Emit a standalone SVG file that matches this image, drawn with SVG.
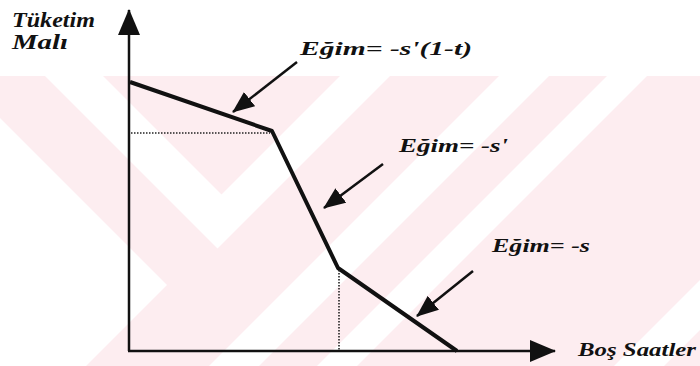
<svg xmlns="http://www.w3.org/2000/svg" width="700" height="366" viewBox="0 0 700 366">
  <style>
    .lbl { font-family: "Liberation Serif", "Times New Roman", serif; font-weight: bold; font-style: italic; fill: #111; }
    .curve { fill: none; stroke: #111; stroke-width: 4; stroke-linejoin: round; }
    .axis { fill: none; stroke: #111; stroke-width: 2.5; }
    .dot { fill: none; stroke: #222; stroke-width: 1.6; stroke-dasharray: 1.5 1.5; }
    .ptr { fill: none; stroke: #111; stroke-width: 2.5; }
    .wm { fill: #fdedf0; }
    .wmw { fill: #ffffff; }
  </style>
  <defs>
    <marker id="head" viewBox="0 0 22 18" refX="21" refY="9" markerWidth="22" markerHeight="18" markerUnits="userSpaceOnUse" orient="auto">
      <path d="M0,0 L22,9 L0,18 z" fill="#111"/>
    </marker>
    <marker id="axhead" viewBox="0 0 26 22" refX="25" refY="11" markerWidth="26" markerHeight="22" markerUnits="userSpaceOnUse" orient="auto">
      <path d="M0,0 L26,11 L0,22 z" fill="#111"/>
    </marker>
  </defs>

  <g id="watermark">
    <rect class="wm" x="0" y="76" width="700" height="290"/>
    <polygon class="wmw" points="0,118 167,285 86,366 0,366"/>
    <polygon class="wmw" points="45,76 103,76 221.5,194.5 340,76 390,76 217.5,248.5"/>
    <polygon class="wmw" points="499,76 549,76 259,366 209,366"/>
    <polygon class="wmw" points="607,76 647,76 357,366 317,366"/>
    <polygon class="wmw" points="700,280 700,330 664,366 614,366"/>
  </g>

  <g id="axes">
    <line class="axis" x1="129" y1="351" x2="129" y2="10" marker-end="url(#axhead)"/>
    <line class="axis" x1="128" y1="351" x2="555" y2="351" marker-end="url(#axhead)"/>
  </g>

  <g id="budget-line">
    <polyline class="curve" points="130,82 272,131 338,268 457,351"/>
  </g>

  <g id="guides">
    <line class="dot" x1="131" y1="133" x2="270" y2="133"/>
    <line class="dot" x1="339" y1="270" x2="339" y2="350"/>
  </g>

  <g id="connectors">
    <line class="ptr" x1="297" y1="62" x2="233" y2="112" marker-end="url(#head)"/>
    <line class="ptr" x1="383" y1="164" x2="324" y2="208" marker-end="url(#head)"/>
    <line class="ptr" x1="473" y1="271" x2="417" y2="316" marker-end="url(#head)"/>
  </g>

  <g id="label-y">
    <text class="lbl" x="12" y="27" font-size="21" textLength="83" lengthAdjust="spacingAndGlyphs">Tüketim</text>
    <text class="lbl" x="12" y="49" font-size="21" textLength="56" lengthAdjust="spacingAndGlyphs">Malı</text>
  </g>
  <g id="label-slope1">
    <text class="lbl" x="300" y="55" font-size="19" textLength="172" lengthAdjust="spacingAndGlyphs">Eğim= -s'(1-t)</text>
  </g>
  <g id="label-slope2">
    <text class="lbl" x="399" y="152" font-size="19" textLength="109" lengthAdjust="spacingAndGlyphs">Eğim= -s'</text>
  </g>
  <g id="label-slope3">
    <text class="lbl" x="492" y="252" font-size="19" textLength="98" lengthAdjust="spacingAndGlyphs">Eğim= -s</text>
  </g>
  <g id="label-x">
    <text class="lbl" x="578" y="356" font-size="19" textLength="118" lengthAdjust="spacingAndGlyphs">Boş Saatler</text>
  </g>
</svg>
